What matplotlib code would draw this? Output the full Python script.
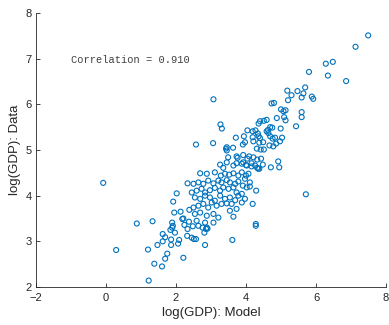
import matplotlib
matplotlib.use("Agg")
import matplotlib.pyplot as plt

x_model = [
    -0.08, 0.29, 0.88, 1.33, 1.20, 1.22, 1.38, 1.60, 1.69, 1.75, 1.47, 1.62, 1.62, 1.69, 1.86, 1.86,
    2.06, 2.09, 2.21, 1.89, 1.91, 1.89, 1.84, 1.97, 1.95, 1.92, 2.02, 2.13, 2.21, 2.18, 2.24, 2.33,
    2.38, 2.33, 2.32, 2.37,
    3.07, 3.27, 3.31, 3.71, 2.57, 3.06, 3.45, 3.43, 3.45, 3.63, 3.49, 3.73, 3.76,
    5.20, 4.73, 4.80, 5.00, 5.07, 5.13, 4.88, 5.09, 5.13, 4.40, 4.51, 4.59, 4.36, 4.69, 4.75, 4.63,
    4.99, 4.04, 4.19, 4.27, 4.34, 4.59, 4.64, 3.94, 4.19, 4.36, 4.40, 4.69, 4.76, 4.83, 4.97, 5.03,
    4.21, 4.38, 4.49, 3.91, 3.97, 4.67, 4.78, 4.86, 4.31, 4.42, 4.51, 4.21, 4.32, 4.43, 3.92, 4.04,
    4.09, 3.88, 4.00, 4.16, 4.95,
    3.45, 3.64, 3.73, 3.26, 3.35, 2.69, 2.88, 3.11, 3.28, 3.40, 3.52, 3.64, 3.78, 2.50, 2.64, 2.78,
    2.92, 3.07, 3.21, 3.30, 3.45, 3.54, 3.69, 3.78, 2.45, 2.59, 2.73, 2.83, 2.97, 3.11, 3.26, 3.35,
    3.50, 3.64, 3.73, 2.54, 2.69, 2.83, 2.97, 3.11, 3.26, 3.40, 3.54, 3.69, 3.78, 2.50, 2.64, 2.78,
    2.92, 3.02, 3.16, 3.30, 3.45, 3.59, 3.73, 2.54, 2.69, 2.88, 3.07, 3.21, 3.54, 3.64, 2.59, 2.83,
    3.07, 2.64, 2.88,
    3.92, 4.02, 4.16, 4.26, 4.35, 4.48, 4.71, 4.92, 3.88, 4.00, 4.07, 3.97, 4.11, 3.91, 4.02, 4.11,
    4.29, 3.88, 3.97, 3.88, 4.19, 4.28, 4.32, 4.38,
    2.48, 2.76, 2.86, 2.90, 2.81, 2.45, 2.51, 2.57, 2.83, 3.61, 4.28,
    7.49, 7.13, 6.48, 6.28, 6.34, 6.86, 5.80, 5.69, 5.47, 5.64, 5.30, 5.59, 5.88, 5.92,
    5.59, 5.59, 5.43, 5.71, 5.18,
]
y_data = [
    4.28, 2.81, 3.39, 3.44, 2.82, 2.14, 2.51, 2.45, 2.62, 2.73, 2.92, 3.00, 3.16, 3.09, 3.04, 2.92,
    2.95, 3.03, 2.64, 3.41, 3.34, 3.30, 3.25, 3.19, 3.63, 3.87, 4.05, 3.65, 3.50, 3.49, 3.36, 4.27,
    3.69, 3.27, 3.12, 3.43,
    6.11, 5.56, 5.47, 5.27, 5.12, 5.15, 5.06, 5.03, 4.99, 5.05, 4.84, 4.86, 4.83,
    6.09, 6.02, 6.03, 5.89, 5.85, 5.87, 5.70, 5.72, 5.65, 5.63, 5.64, 5.66, 5.58, 5.50, 5.49, 5.44,
    5.47, 5.43, 5.41, 5.43, 5.36, 5.41, 5.37, 5.30, 5.28, 5.30, 5.26, 5.30, 5.25, 5.27, 5.19, 5.27,
    5.19, 5.16, 5.17, 5.12, 5.17, 5.10, 5.08, 5.14, 5.03, 5.01, 5.01, 4.84, 4.79, 4.81, 4.89, 4.81,
    4.86, 4.70, 4.67, 4.64, 4.62,
    4.73, 4.66, 4.71, 4.68, 4.61, 4.49, 4.48, 4.51, 4.44, 4.48, 4.46, 4.49, 4.44, 4.26, 4.29, 4.26,
    4.33, 4.27, 4.33, 4.29, 4.34, 4.29, 4.26, 4.31, 4.07, 4.11, 4.15, 4.07, 4.12, 4.17, 4.11, 4.18,
    4.15, 4.18, 4.07, 3.96, 3.93, 4.00, 3.96, 3.89, 4.00, 3.93, 3.96, 3.90, 4.00, 3.74, 3.78, 3.82,
    3.74, 3.85, 3.78, 3.82, 3.83, 3.82, 3.71, 3.60, 3.63, 3.56, 3.60, 3.52, 3.67, 3.54, 3.45, 3.41,
    3.41, 3.34, 3.30,
    4.73, 4.66, 4.71, 4.66, 4.59, 4.68, 4.62, 4.75, 4.51, 4.44, 4.48, 4.37, 4.29, 4.22, 4.18, 4.20,
    4.11, 4.04, 3.93, 3.85, 3.82, 3.38, 4.61, 4.59,
    3.33, 3.30, 3.27, 3.28, 3.19, 3.08, 3.05, 3.05, 2.92, 3.03, 3.34,
    7.51, 7.26, 6.93, 6.89, 6.63, 6.51, 6.71, 6.37, 6.29, 6.24, 6.20, 6.15, 6.17, 6.12,
    5.83, 5.72, 5.52, 4.03, 6.30,
]
x_ticks = [-2, 0, 2, 4, 6, 8]
y_ticks = [2, 3, 4, 5, 6, 7, 8]
corr_text = "Correlation = 0.910"
x_label = "log(GDP): Model"
y_label = "log(GDP): Data"

plt.rcParams['font.family'] = ['Liberation Sans', 'DejaVu Sans']
axis_col = '#262626'

fig = plt.figure(figsize=(3.89, 3.25), dpi=100)
ax = fig.add_axes([36/389, (325-287)/325, (386-36)/389, (287-13)/325])
ax.scatter(x_model, y_data, s=13, facecolors='none', edgecolors='#0072BD', linewidths=0.8, clip_on=False)
ax.set_xlim(-2, 8)
ax.set_ylim(2, 8)
ax.set_xticks(x_ticks)
ax.set_yticks(y_ticks)
ax.spines['top'].set_visible(False)
ax.spines['right'].set_visible(False)
for s in ['left', 'bottom']:
    ax.spines[s].set_color(axis_col)
    ax.spines[s].set_linewidth(0.6)
ax.tick_params(direction='in', length=3, width=0.6, colors=axis_col, labelsize=8)
ax.tick_params(axis='x', pad=4)
ax.tick_params(axis='y', pad=3)
ax.set_xlabel(x_label, fontsize=9.5, color=axis_col, labelpad=3)
ax.set_ylabel(y_label, fontsize=9.5, color=axis_col, labelpad=3)
ax.text(-1.0, 6.97, corr_text, family=['Liberation Mono', 'DejaVu Sans Mono'], fontsize=7.5,
        color='#404040', va='center', ha='left')
fig.savefig('out.png', dpi=100)
